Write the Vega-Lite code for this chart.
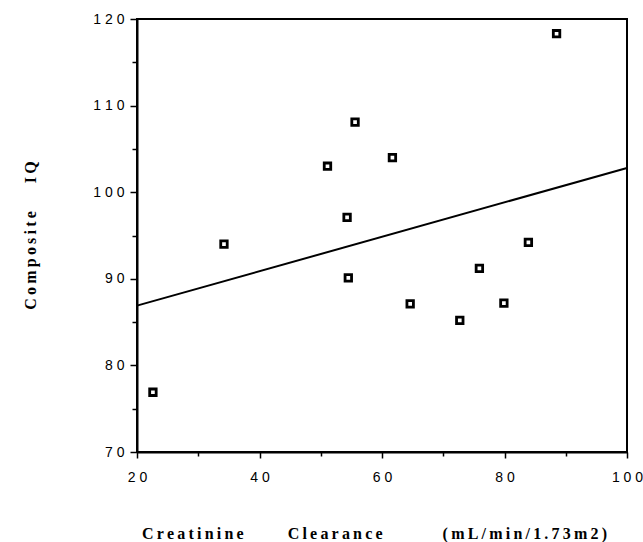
{
  "$schema": "https://vega.github.io/schema/vega-lite/v6.json",
  "width": 490,
  "height": 433,
  "autosize": "none",
  "padding": {"left": 137, "top": 19, "right": 16, "bottom": 90},
  "background": "white",
  "config": {
    "view": {"stroke": "black", "strokeWidth": 2},
    "axis": {
      "grid": false,
      "domainColor": "black",
      "domainWidth": 2,
      "tickColor": "black",
      "tickWidth": 1.5,
      "labelColor": "black",
      "labelFont": "Liberation Sans",
      "labelFontSize": 14,
      "titleFont": "Liberation Serif",
      "titleFontWeight": "bold",
      "titleFontSize": 16,
      "titleColor": "black"
    }
  },
  "layer": [
    {
      "data": {"values": [
        {"clearance": 20, "iq": 86.9},
        {"clearance": 100, "iq": 102.8}
      ]},
      "mark": {"type": "line", "color": "black", "strokeWidth": 2},
      "encoding": {
        "x": {
          "field": "clearance", "type": "quantitative",
          "scale": {"domain": [20, 100], "nice": false, "zero": false},
          "axis": {
            "values": [20, 30, 40, 50, 60, 70, 80, 90, 100],
            "labelExpr": "datum.value % 20 === 0 ? join(split(datum.label, ''), ' ') : ''",
            "tickSize": {"condition": {"test": "datum.value % 20 !== 0", "value": 4}, "value": 6},
            "labelPadding": 12,
            "labelFlush": false,
            "labelOverlap": false,
            "title": "C\u2009r\u2009e\u2009a\u2009t\u2009i\u2009n\u2009i\u2009n\u2009e\u00a0\u00a0\u00a0\u00a0\u00a0\u00a0\u00a0\u00a0\u00a0\u00a0\u00a0C\u2009l\u2009e\u2009a\u2009r\u2009a\u2009n\u2009c\u2009e\u00a0\u00a0\u00a0\u00a0\u00a0\u00a0\u00a0\u00a0\u00a0\u00a0\u00a0\u00a0\u00a0\u00a0\u00a0(\u2009m\u2009L\u2009/\u2009m\u2009i\u2009n\u2009/\u20091\u2009.\u20097\u20093\u2009m\u20092\u2009)",
            "titleX": 237,
            "titleY": 86,
            "titleAlign": "center",
            "titleBaseline": "alphabetic"
          }
        },
        "y": {
          "field": "iq", "type": "quantitative",
          "scale": {"domain": [70, 120], "nice": false, "zero": false},
          "axis": {
            "values": [70, 75, 80, 85, 90, 95, 100, 105, 110, 115, 120],
            "labelExpr": "datum.value % 10 === 0 ? join(split(datum.label, ''), ' ') : ''",
            "tickSize": {"condition": {"test": "datum.value % 10 !== 0", "value": 5}, "value": 7},
            "labelPadding": 6,
            "labelFlush": false,
            "labelOverlap": false,
            "title": "C\u2009o\u2009m\u2009p\u2009o\u2009s\u2009i\u2009t\u2009e\u00a0\u00a0\u00a0\u00a0\u00a0\u00a0\u00a0I\u2009Q",
            "titleX": -107,
            "titleY": 216,
            "titleAngle": -90,
            "titleAlign": "center",
            "titleBaseline": "middle"
          }
        }
      }
    },
    {
      "data": {"values": [
        {"clearance": 22.6, "iq": 76.9},
        {"clearance": 34.2, "iq": 94.0},
        {"clearance": 51.1, "iq": 103.0},
        {"clearance": 54.3, "iq": 97.1},
        {"clearance": 54.5, "iq": 90.1},
        {"clearance": 55.6, "iq": 108.1},
        {"clearance": 61.7, "iq": 104.0},
        {"clearance": 64.6, "iq": 87.1},
        {"clearance": 72.7, "iq": 85.2},
        {"clearance": 75.9, "iq": 91.2},
        {"clearance": 79.9, "iq": 87.2},
        {"clearance": 83.9, "iq": 94.2},
        {"clearance": 88.5, "iq": 118.3}
      ]},
      "mark": {"type": "point", "shape": "square", "size": 42, "filled": false, "fill": "white", "fillOpacity": 1, "stroke": "black", "strokeWidth": 2.8, "opacity": 1},
      "encoding": {
        "x": {"field": "clearance", "type": "quantitative"},
        "y": {"field": "iq", "type": "quantitative"}
      }
    }
  ]
}
